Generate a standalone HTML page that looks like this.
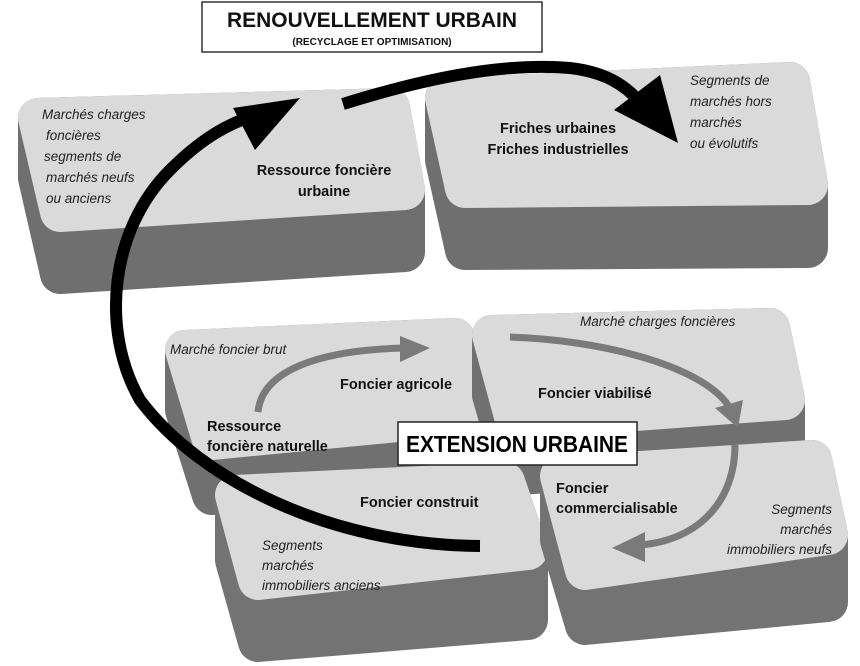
<!DOCTYPE html>
<html><head><meta charset="utf-8"><style>
html,body{margin:0;padding:0;background:#fff;width:860px;height:666px;overflow:hidden}
svg{display:block}
text{font-family:"Liberation Sans",sans-serif}
.b{font-weight:bold;font-size:14.5px;fill:#111}
.i{font-style:italic;font-size:13.5px;fill:#222}
</style></head><body>
<svg width="860" height="666" viewBox="0 0 860 666">
<g stroke-linejoin="round" stroke-width="40">
<!-- A -->
<polygon points="38,118 390,108 405,190 405,252 60,274 38,178" fill="#6f6f6f" stroke="#6f6f6f"/>
<polygon points="38,118 390,108 405,190 60,212" fill="#dadada" stroke="#dadada"/>
<!-- B -->
<polygon points="445,98 790,82 808,185 808,248 465,250 445,160" fill="#6f6f6f" stroke="#6f6f6f"/>
<polygon points="445,98 790,82 808,185 465,188" fill="#dadada" stroke="#dadada"/>
<!-- C -->
<polygon points="185,350 455,338 470,415 470,475 212,495 185,410" fill="#707070" stroke="#707070"/>
<polygon points="185,350 455,338 470,415 212,440" fill="#dadada" stroke="#dadada"/>
<!-- D -->
<polygon points="492,335 770,328 785,400 785,460 515,475 492,395" fill="#707070" stroke="#707070"/>
<polygon points="492,335 770,328 785,400 515,420" fill="#dadada" stroke="#dadada"/>
<!-- E -->
<polygon points="235,495 505,482 528,550 528,620 258,642 235,560" fill="#737373" stroke="#737373"/>
<polygon points="235,495 505,482 528,550 258,580" fill="#dadada" stroke="#dadada"/>
<!-- F -->
<polygon points="560,476 812,460 828,535 828,602 585,625 560,540" fill="#737373" stroke="#737373"/>
<polygon points="560,476 812,460 828,535 585,570" fill="#dadada" stroke="#dadada"/>
</g>
<!-- gray arrows -->
<g fill="none" stroke="#7a7a7a" stroke-width="7">
<path d="M258,412 C262,370 320,350 405,348"/>
<path d="M510,337 C600,340 700,365 728,405"/>
<path d="M735,445 C735,500 700,540 640,545"/>
</g>
<g fill="#7a7a7a">
<polygon points="400,336 430,348 400,362"/>
<polygon points="715,408 743,400 738,428"/>
<polygon points="645,532 612,548 645,562"/>
</g>
<!-- black arrows -->
<g fill="none" stroke="#000" stroke-width="12">
<path d="M480,546 C330,545 200,480 140,400 C100,330 110,230 170,170 C200,140 225,125 255,115"/>
<path d="M343,104 C420,80 500,62 570,68 C605,72 625,85 640,102"/>
</g>
<polygon points="233,108 300,98 255,150" fill="#000"/>
<polygon points="614,110 660,75 678,143" fill="#000"/>
<!-- title boxes -->
<rect x="202" y="2" width="340" height="50" fill="#fff" stroke="#333" stroke-width="1.5"/>
<text x="372" y="27" text-anchor="middle" font-weight="bold" font-size="21" textLength="290" lengthAdjust="spacingAndGlyphs" fill="#111">RENOUVELLEMENT URBAIN</text>
<text x="372" y="45" text-anchor="middle" font-weight="bold" font-size="10" fill="#111">(RECYCLAGE ET OPTIMISATION)</text>
<rect x="398" y="422" width="239" height="43" fill="#fff" stroke="#222" stroke-width="1.5"/>
<text x="517" y="452" text-anchor="middle" font-weight="bold" font-size="23" textLength="222" lengthAdjust="spacingAndGlyphs" fill="#000">EXTENSION URBAINE</text>
<!-- labels -->
<text class="i"><tspan x="42" y="119">Marchés charges</tspan><tspan x="46" y="140">foncières</tspan><tspan x="44" y="161">segments de</tspan><tspan x="46" y="182">marchés neufs</tspan><tspan x="46" y="203">ou anciens</tspan></text>
<text class="b" text-anchor="middle"><tspan x="324" y="175">Ressource foncière</tspan><tspan x="324" y="196">urbaine</tspan></text>
<text class="b" text-anchor="middle"><tspan x="558" y="133">Friches urbaines</tspan><tspan x="558" y="154">Friches industrielles</tspan></text>
<text class="i"><tspan x="690" y="85">Segments de</tspan><tspan x="690" y="106">marchés hors</tspan><tspan x="690" y="127">marchés</tspan><tspan x="690" y="148">ou évolutifs</tspan></text>
<text class="i" x="170" y="354">Marché foncier brut</text>
<text class="b" x="340" y="389">Foncier agricole</text>
<text class="b"><tspan x="207" y="431">Ressource</tspan><tspan x="207" y="451">foncière naturelle</tspan></text>
<text class="i" x="580" y="326">Marché charges foncières</text>
<text class="b" x="538" y="398">Foncier viabilisé</text>
<text class="b" x="360" y="507">Foncier construit</text>
<text class="b"><tspan x="556" y="493">Foncier</tspan><tspan x="556" y="513">commercialisable</tspan></text>
<text class="i"><tspan x="262" y="550">Segments</tspan><tspan x="262" y="570">marchés</tspan><tspan x="262" y="590">immobiliers anciens</tspan></text>
<text class="i" text-anchor="end"><tspan x="832" y="514">Segments</tspan><tspan x="832" y="534">marchés</tspan><tspan x="832" y="554">immobiliers neufs</tspan></text>
</svg>
</body></html>
